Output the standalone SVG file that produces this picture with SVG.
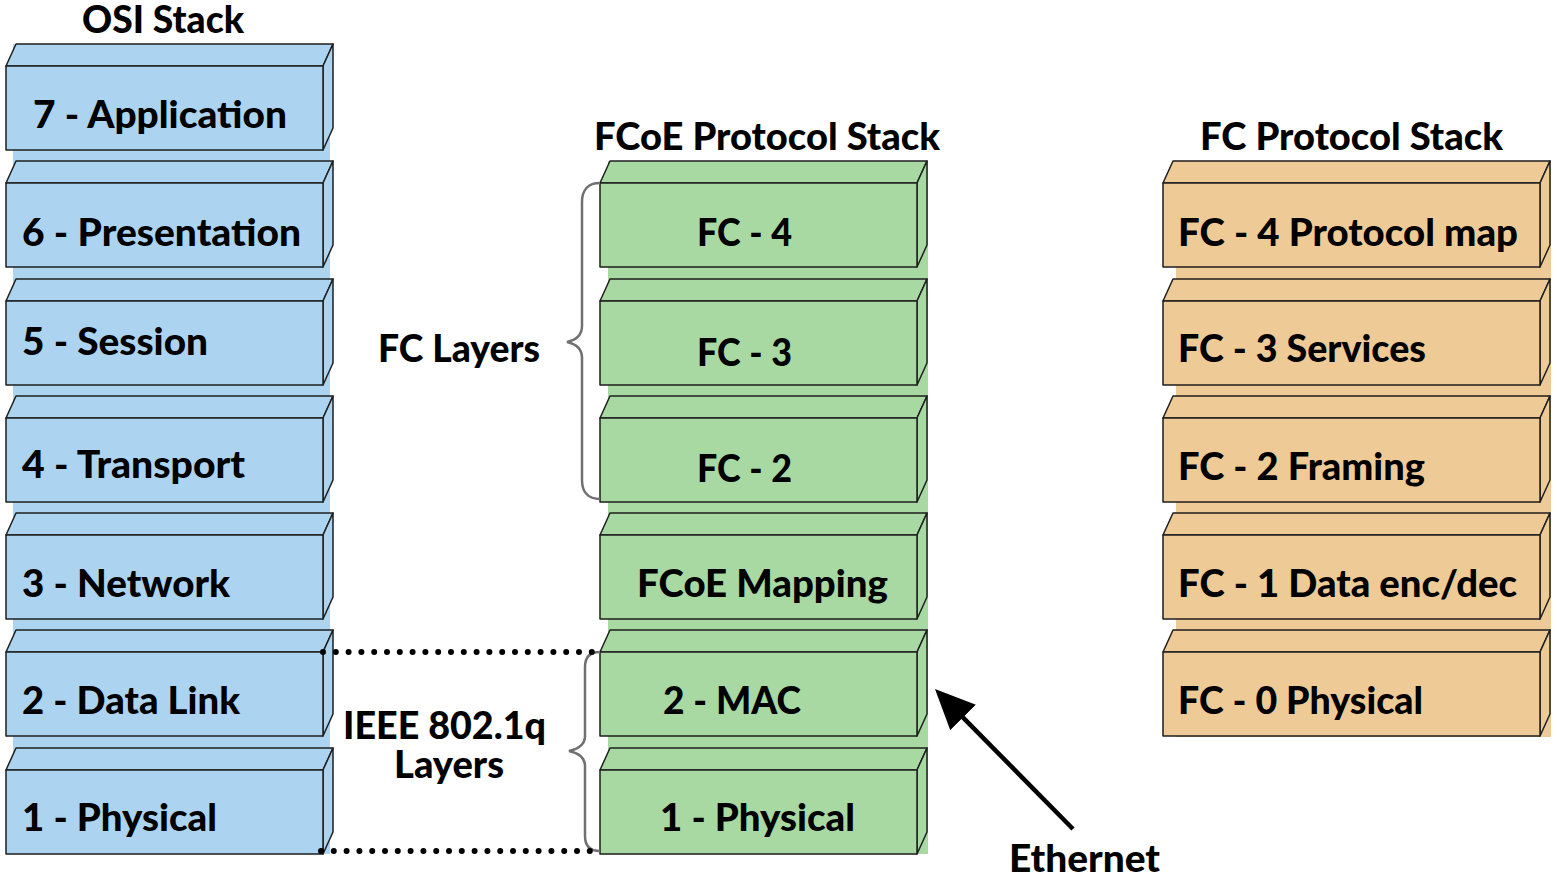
<svg xmlns="http://www.w3.org/2000/svg" width="1557" height="879" viewBox="0 0 1557 879">
<defs>
<style>
.t{font-family:Lato,"Liberation Sans",sans-serif;font-weight:900;font-size:37px;fill:#000}
.b{fill:#acd4f1}
.g{fill:#a9d9a3}
.o{fill:#eecb96}
.box polygon,.box rect{stroke:#1e1e1e;stroke-width:1.5;stroke-linejoin:round}
.brace{fill:none;stroke:#707070;stroke-width:2.5}
.dots{stroke:#000;stroke-width:6;stroke-linecap:round;stroke-dasharray:0 12.8}
</style>
<marker id="ah" viewBox="0 0 40 36" refX="34" refY="18" markerWidth="40" markerHeight="36" markerUnits="userSpaceOnUse" orient="auto">
<path d="M0,0 L40,18 L0,36 z" fill="#000"/>
</marker>
</defs>
<rect width="1557" height="879" fill="#fff"/>
<!-- background bands -->
<rect class="b" x="13" y="44" width="317" height="810"/>
<rect class="g" x="608" y="161" width="320" height="693"/>
<rect class="o" x="1176" y="161" width="375" height="576"/>

<text class="t" x="82" y="33" textLength="162" lengthAdjust="spacingAndGlyphs">OSI Stack</text>
<text class="t" x="594" y="150" textLength="346" lengthAdjust="spacingAndGlyphs">FCoE Protocol Stack</text>
<text class="t" x="1200" y="150" textLength="303" lengthAdjust="spacingAndGlyphs">FC Protocol Stack</text>

<!-- OSI stack -->
<g id="osi7" class="box b"><polygon points="6,66 16,44 333,44 323,66"/><polygon points="323,66 333,44 333,128 323,150"/><rect x="6" y="66" width="317" height="84"/><text class="t" x="33" y="128" textLength="254" lengthAdjust="spacingAndGlyphs">7 - Application</text></g>
<g id="osi6" class="box b"><polygon points="6,183 16,161 333,161 323,183"/><polygon points="323,183 333,161 333,245 323,267"/><rect x="6" y="183" width="317" height="84"/><text class="t" x="22" y="246" textLength="279" lengthAdjust="spacingAndGlyphs">6 - Presentation</text></g>
<g id="osi5" class="box b"><polygon points="6,301 16,279 333,279 323,301"/><polygon points="323,301 333,279 333,363 323,385"/><rect x="6" y="301" width="317" height="84"/><text class="t" x="22" y="355" textLength="186" lengthAdjust="spacingAndGlyphs">5 - Session</text></g>
<g id="osi4" class="box b"><polygon points="6,418 16,396 333,396 323,418"/><polygon points="323,418 333,396 333,480 323,502"/><rect x="6" y="418" width="317" height="84"/><text class="t" x="22" y="478" textLength="223" lengthAdjust="spacingAndGlyphs">4 - Transport</text></g>
<g id="osi3" class="box b"><polygon points="6,535 16,513 333,513 323,535"/><polygon points="323,535 333,513 333,597 323,619"/><rect x="6" y="535" width="317" height="84"/><text class="t" x="22" y="597" textLength="208" lengthAdjust="spacingAndGlyphs">3 - Network</text></g>
<g id="osi2" class="box b"><polygon points="6,652 16,630 333,630 323,652"/><polygon points="323,652 333,630 333,714 323,736"/><rect x="6" y="652" width="317" height="84"/><text class="t" x="22" y="714" textLength="218" lengthAdjust="spacingAndGlyphs">2 - Data Link</text></g>
<g id="osi1" class="box b"><polygon points="6,770 16,748 333,748 323,770"/><polygon points="323,770 333,748 333,832 323,854"/><rect x="6" y="770" width="317" height="84"/><text class="t" x="22" y="831" textLength="195" lengthAdjust="spacingAndGlyphs">1 - Physical</text></g>

<!-- FCoE stack -->
<g id="fcoe4" class="box g"><polygon points="600,183 610,161 927,161 917,183"/><polygon points="917,183 927,161 927,245 917,267"/><rect x="600" y="183" width="317" height="84"/><text class="t" x="697" y="246" textLength="95" lengthAdjust="spacingAndGlyphs">FC - 4</text></g>
<g id="fcoe3" class="box g"><polygon points="600,301 610,279 927,279 917,301"/><polygon points="917,301 927,279 927,363 917,385"/><rect x="600" y="301" width="317" height="84"/><text class="t" x="697" y="366" textLength="95" lengthAdjust="spacingAndGlyphs">FC - 3</text></g>
<g id="fcoe2" class="box g"><polygon points="600,418 610,396 927,396 917,418"/><polygon points="917,418 927,396 927,480 917,502"/><rect x="600" y="418" width="317" height="84"/><text class="t" x="697" y="482" textLength="95" lengthAdjust="spacingAndGlyphs">FC - 2</text></g>
<g id="fcoemap" class="box g"><polygon points="600,535 610,513 927,513 917,535"/><polygon points="917,535 927,513 927,597 917,619"/><rect x="600" y="535" width="317" height="84"/><text class="t" x="637" y="597" textLength="251" lengthAdjust="spacingAndGlyphs">FCoE Mapping</text></g>
<g id="fcoemac" class="box g"><polygon points="600,652 610,630 927,630 917,652"/><polygon points="917,652 927,630 927,714 917,736"/><rect x="600" y="652" width="317" height="84"/><text class="t" x="663" y="714" textLength="138" lengthAdjust="spacingAndGlyphs">2 - MAC</text></g>
<g id="fcoephy" class="box g"><polygon points="600,770 610,748 927,748 917,770"/><polygon points="917,770 927,748 927,832 917,854"/><rect x="600" y="770" width="317" height="84"/><text class="t" x="660" y="831" textLength="195" lengthAdjust="spacingAndGlyphs">1 - Physical</text></g>

<!-- FC stack -->
<g id="fc4" class="box o"><polygon points="1163,183 1173,161 1550,161 1540,183"/><polygon points="1540,183 1550,161 1550,245 1540,267"/><rect x="1163" y="183" width="377" height="84"/><text class="t" x="1178" y="246" textLength="340" lengthAdjust="spacingAndGlyphs">FC - 4 Protocol map</text></g>
<g id="fc3" class="box o"><polygon points="1163,301 1173,279 1550,279 1540,301"/><polygon points="1540,301 1550,279 1550,363 1540,385"/><rect x="1163" y="301" width="377" height="84"/><text class="t" x="1178" y="362" textLength="248" lengthAdjust="spacingAndGlyphs">FC - 3 Services</text></g>
<g id="fc2" class="box o"><polygon points="1163,418 1173,396 1550,396 1540,418"/><polygon points="1540,418 1550,396 1550,480 1540,502"/><rect x="1163" y="418" width="377" height="84"/><text class="t" x="1178" y="480" textLength="247" lengthAdjust="spacingAndGlyphs">FC - 2 Framing</text></g>
<g id="fc1" class="box o"><polygon points="1163,535 1173,513 1550,513 1540,535"/><polygon points="1540,535 1550,513 1550,597 1540,619"/><rect x="1163" y="535" width="377" height="84"/><text class="t" x="1178" y="597" textLength="339" lengthAdjust="spacingAndGlyphs">FC - 1 Data enc/dec</text></g>
<g id="fc0" class="box o"><polygon points="1163,652 1173,630 1550,630 1540,652"/><polygon points="1540,652 1550,630 1550,714 1540,736"/><rect x="1163" y="652" width="377" height="84"/><text class="t" x="1178" y="714" textLength="245" lengthAdjust="spacingAndGlyphs">FC - 0 Physical</text></g>

<!-- labels -->
<g id="fclayers"><text class="t" x="378" y="362" textLength="162" lengthAdjust="spacingAndGlyphs">FC Layers</text></g>
<g id="ieee"><text class="t" x="343" y="739" textLength="203" lengthAdjust="spacingAndGlyphs">IEEE 802.1q</text><text class="t" x="394" y="778" textLength="110" lengthAdjust="spacingAndGlyphs">Layers</text></g>
<g id="ethernet"><text class="t" x="1009" y="872" textLength="151" lengthAdjust="spacingAndGlyphs">Ethernet</text></g>

<!-- connectors -->
<g id="connectors">
<path class="brace" d="M600,183 C588,183 582,190 582,202 L582,326 C582,336 576,340 567,342 C576,344 582,348 582,358 L582,480 C582,492 588,499 600,499"/>
<path class="brace" d="M600,652 C590,652 585,657 585,667 L585,736 C585,745 578,749 569,751 C578,753 585,757 585,766 L585,836 C585,846 590,851 600,851"/>
<line class="dots" x1="323" y1="652" x2="595" y2="652"/>
<line class="dots" x1="321" y1="851" x2="593" y2="851"/>
<line x1="1073" y1="829" x2="939.2" y2="693.3" stroke="#000" stroke-width="4.5" marker-end="url(#ah)"/>
</g>
</svg>
